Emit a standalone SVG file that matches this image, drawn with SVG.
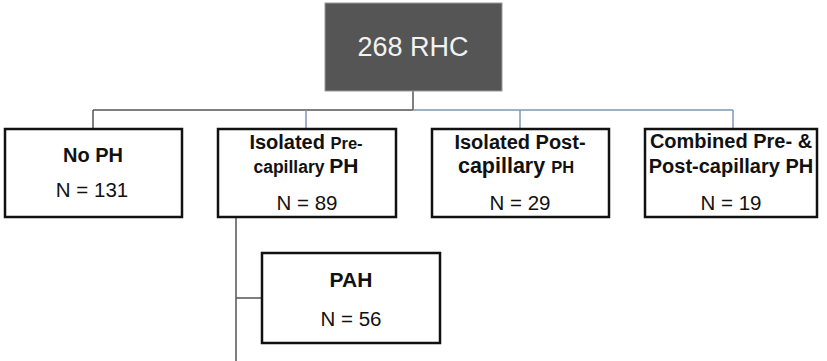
<svg xmlns="http://www.w3.org/2000/svg" width="827" height="361" viewBox="0 0 827 361">
  <style>
    .box { fill: #ffffff; stroke: #111111; stroke-width: 2.5; }
    .t { font-family: "Liberation Sans", Arial, sans-serif; fill: #111111; text-anchor: middle; }
    .b { font-weight: bold; }
    .big { font-size: 20px; }
    .sm { font-size: 16.5px; }
    .n { font-size: 20.5px; }
    .gray { stroke: #555555; stroke-width: 1.5; fill: none; }
    .blue { stroke: #7f97b3; stroke-width: 1.5; fill: none; }
  </style>
  <rect width="827" height="361" fill="#ffffff"/>

  <g id="connectors">
    <line class="gray" x1="413" y1="91" x2="413" y2="110"/>
    <line class="gray" x1="93" y1="110" x2="413" y2="110"/>
    <line class="blue" x1="413" y1="110" x2="733" y2="110"/>
    <line class="gray" x1="93" y1="110" x2="93" y2="129"/>
    <line class="blue" x1="306" y1="110" x2="306" y2="129"/>
    <line class="blue" x1="520" y1="110" x2="520" y2="129"/>
    <line class="blue" x1="733" y1="110" x2="733" y2="129"/>
    <line class="gray" x1="236" y1="217" x2="236" y2="361"/>
    <line class="gray" x1="236" y1="298" x2="262" y2="298"/>
  </g>

  <g id="rhc">
    <rect x="325" y="3" width="177" height="88" fill="#555555" stroke="#9a9a9a" stroke-width="1"/>
    <text x="413" y="56" font-family="Liberation Sans, Arial, sans-serif" font-size="27" fill="#f2f2f2" text-anchor="middle">268 RHC</text>
  </g>

  <g id="no-ph">
    <rect class="box" x="5" y="129" width="177" height="88"/>
    <text class="t b big" x="93" y="162">No PH</text>
    <text class="t n" x="92" y="197">N = 131</text>
  </g>

  <g id="isolated-pre">
    <rect class="box" x="218" y="129" width="178" height="88"/>
    <text class="t b" x="306" y="149"><tspan class="big">Isolated </tspan><tspan class="sm">Pre-</tspan></text>
    <text class="t b" x="306" y="173"><tspan style="font-size:17.5px">capillary </tspan><tspan style="font-size:21px">PH</tspan></text>
    <text class="t n" x="307" y="210">N = 89</text>
  </g>

  <g id="isolated-post">
    <rect class="box" x="432" y="129" width="177" height="88"/>
    <text class="t b big" x="520" y="149">Isolated Post-</text>
    <text class="t b" x="516" y="173"><tspan style="font-size:21.5px">capillary </tspan><tspan class="sm">PH</tspan></text>
    <text class="t n" x="520" y="210">N = 29</text>
  </g>

  <g id="combined">
    <rect class="box" x="645" y="129" width="172" height="88"/>
    <text class="t b big" x="731" y="148">Combined Pre- &amp;</text>
    <text class="t b big" x="731" y="173">Post-capillary PH</text>
    <text class="t n" x="731" y="210">N = 19</text>
  </g>

  <g id="pah">
    <rect class="box" x="262" y="253" width="178" height="90"/>
    <text class="t b" x="351" y="287" font-size="21">PAH</text>
    <text class="t n" x="351" y="326">N = 56</text>
  </g>
</svg>
